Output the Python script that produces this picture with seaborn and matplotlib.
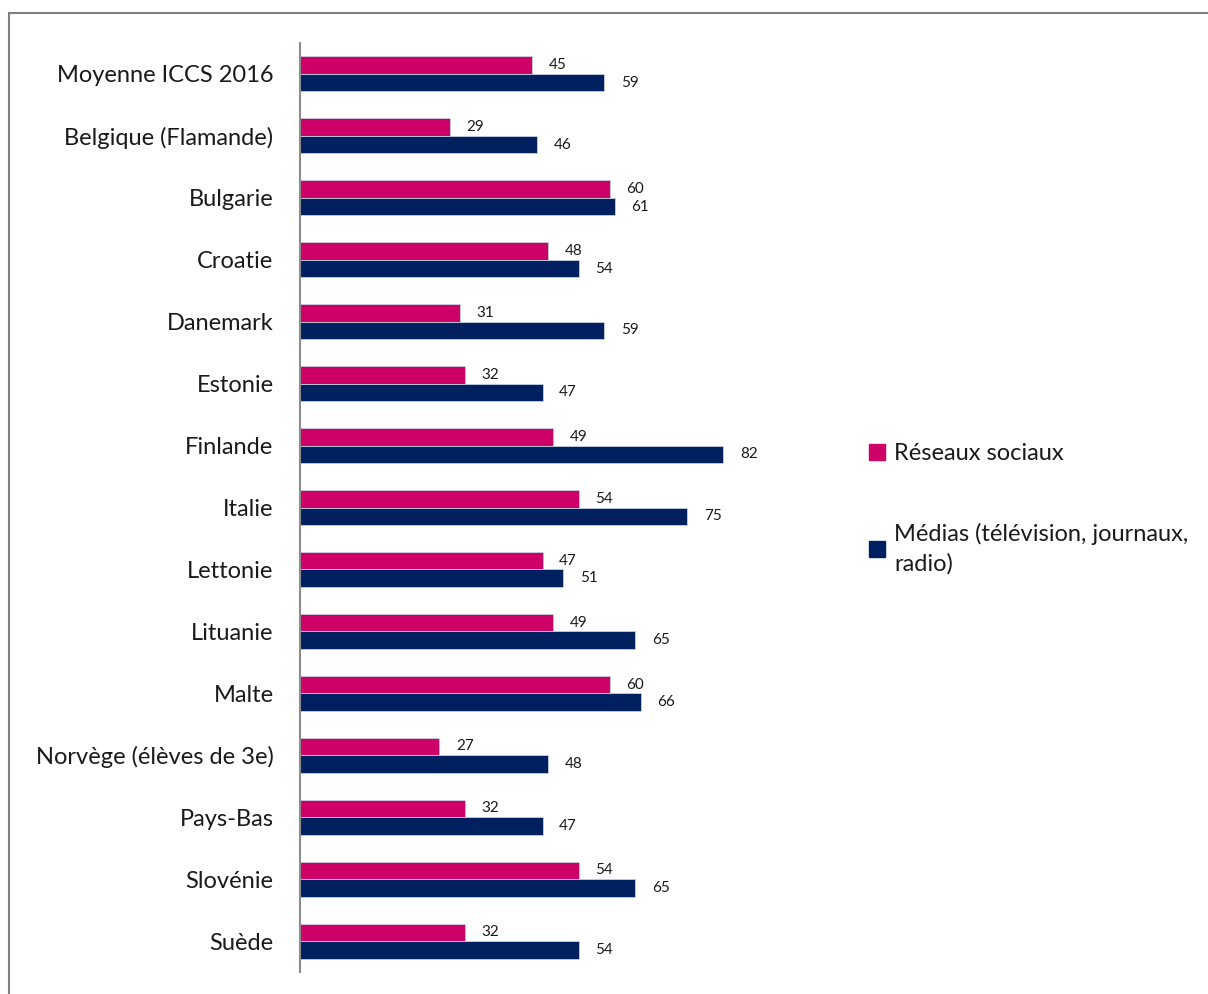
import matplotlib.pyplot as plt
import matplotlib.patches as mpatches
import pandas as pd
import seaborn as sns

pays = ["Moyenne ICCS 2016", "Belgique (Flamande)", "Bulgarie", "Croatie", "Danemark",
        "Estonie", "Finlande", "Italie", "Lettonie", "Lituanie", "Malte",
        "Norvège (élèves de 3e)", "Pays-Bas", "Slovénie", "Suède"]
reseaux = [45, 29, 60, 48, 31, 32, 49, 54, 47, 49, 60, 27, 32, 54, 32]
medias = [59, 46, 61, 54, 59, 47, 82, 75, 51, 65, 66, 48, 47, 65, 54]
series = ["Réseaux sociaux", "Médias (télévision, journaux,\nradio)"]
colors = ["#CC0066", "#002060"]

df = pd.DataFrame({
    "Pays": pays * 2,
    "Valeur": reseaux + medias,
    "Source": [series[0]] * len(pays) + [series[1]] * len(pays),
})

sns.set_style("white")
plt.rcParams["font.family"] = ["Lato", "DejaVu Sans"]

fig = plt.figure(figsize=(12.08, 9.94), dpi=100)
ax = fig.add_axes([300 / 1208, 22 / 994, 516 / 1208, 929 / 994])

sns.barplot(data=df, y="Pays", x="Valeur", hue="Source", orient="h",
            palette=colors, saturation=1, width=0.565, ax=ax, legend=False,
            edgecolor="#c8cfe0", linewidth=0.6)

for cont in ax.containers:
    ax.bar_label(cont, padding=12, fontsize=11, color="#1a1a1a")

ax.set_xlim(0, 100)
ax.set_ylim(len(pays) - 0.5, -0.5)
ax.set_xlabel("")
ax.set_ylabel("")
ax.set_xticks([])
for s in ["top", "right", "bottom"]:
    ax.spines[s].set_visible(False)
ax.spines["left"].set_color("#8c8c8c")
ax.spines["left"].set_linewidth(1.5)
ax.tick_params(axis="y", length=0, pad=19, labelsize=17, labelcolor="#1a1a1a")

handles = [mpatches.Patch(color=c, label=l) for c, l in zip(colors, series)]
leg = fig.legend(handles=handles, loc="upper left", bbox_to_anchor=(848 / 1208, 1 - 422 / 994),
                 frameon=False, fontsize=17, handlelength=0.65, handleheight=0.65,
                 handletextpad=0.4, labelspacing=2.5, labelcolor="#1a1a1a")
for t in leg.get_texts():
    t.set_linespacing(1.45)

border = mpatches.Rectangle((9 / 1208, -0.01), 1.2, 1 - 13 / 994 + 0.01,
                            transform=fig.transFigure, fill=False,
                            edgecolor="#7f7f7f", linewidth=1.5)
fig.patches.append(border)

plt.savefig("out.png", dpi=100)
